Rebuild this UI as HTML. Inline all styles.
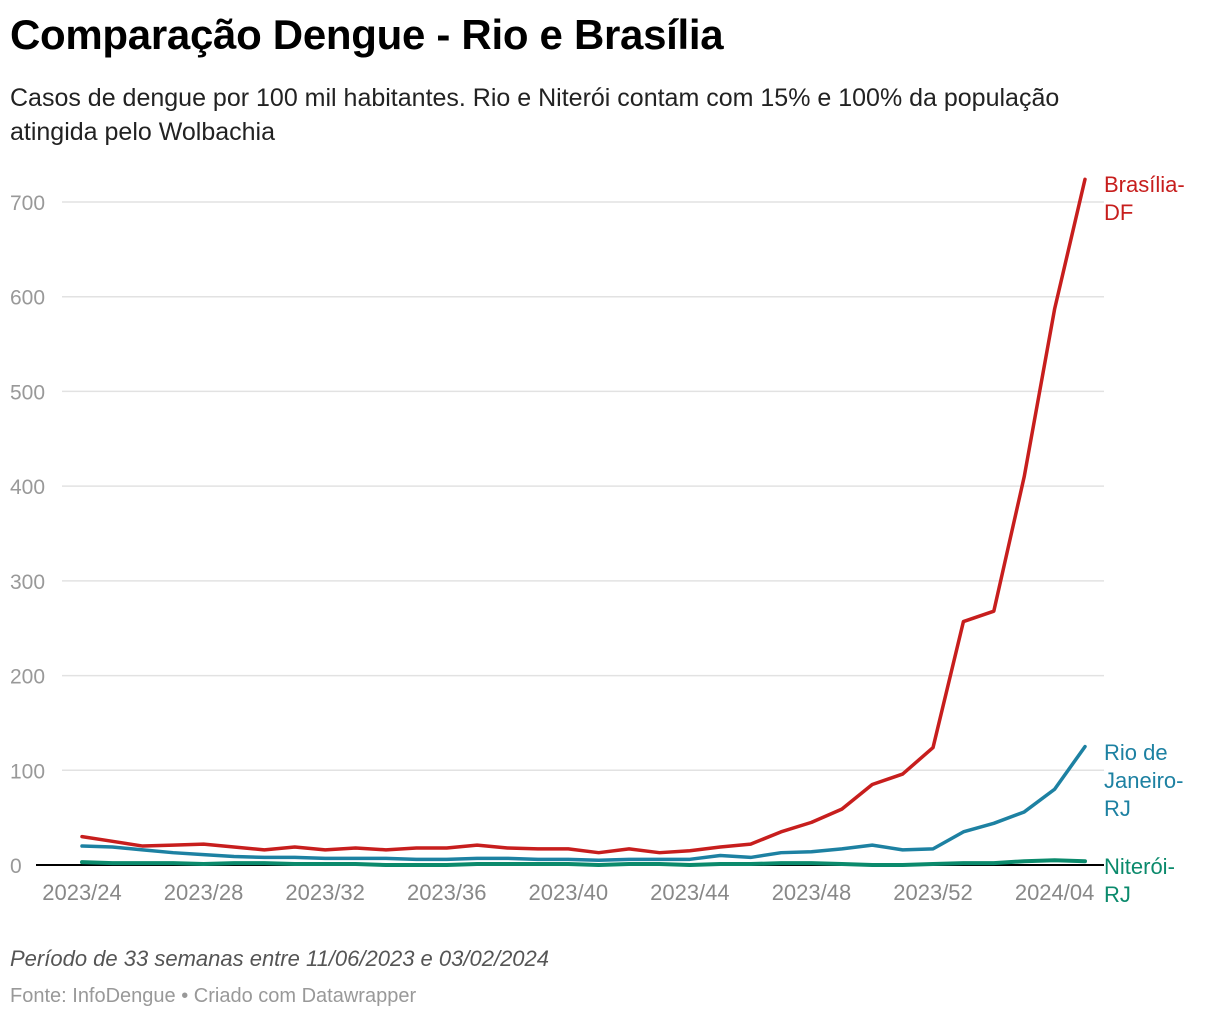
<!DOCTYPE html>
<html><head><meta charset="utf-8"><style>
body{margin:0;background:#fff;width:1220px;height:1020px;overflow:hidden;font-family:"Liberation Sans",sans-serif}
#title{position:absolute;left:10px;top:11px;font-size:42px;font-weight:bold;color:#000;letter-spacing:-0.3px}
#sub{position:absolute;left:10px;top:81px;font-size:25px;line-height:34px;color:#222;width:1130px}
#note{position:absolute;left:10px;top:946px;font-size:22px;font-style:italic;color:#555}
#src{position:absolute;left:10px;top:985px;font-size:20px;color:#999}
svg{position:absolute;left:0;top:0}
</style></head><body>
<div id="title">Comparação Dengue - Rio e Brasília</div>
<div id="sub">Casos de dengue por 100 mil habitantes. Rio e Niterói contam com 15% e 100% da população atingida pelo Wolbachia</div>
<svg id="chart" width="1220" height="1020"></svg>
<div id="note">Período de 33 semanas entre 11/06/2023 e 03/02/2024</div>
<div id="src">Fonte: InfoDengue • Criado com Datawrapper</div>
<script>
const weeks=["2023/24","2023/25","2023/26","2023/27","2023/28","2023/29","2023/30","2023/31","2023/32","2023/33","2023/34","2023/35","2023/36","2023/37","2023/38","2023/39","2023/40","2023/41","2023/42","2023/43","2023/44","2023/45","2023/46","2023/47","2023/48","2023/49","2023/50","2023/51","2023/52","2024/01","2024/02","2024/03","2024/04","2024/05"];
const brasilia=[30,25,20,21,22,19,16,19,16,18,16,18,18,21,18,17,17,13,17,13,15,19,22,35,45,59,85,96,124,257,268,410,587,724];
const rio=[20,19,16,13,11,9,8,8,7,7,7,6,6,7,7,6,6,5,6,6,6,10,8,13,14,17,21,16,17,35,44,56,80,125];
const niteroi=[3,2,2,2,1,2,2,1,1,1,0,0,0,1,1,1,1,0,1,1,0,1,1,2,2,1,0,0,1,2,2,4,5,4];
const yTicks=[0,100,200,300,400,500,600,700];
const xLabelIdx=[0,4,8,12,16,20,24,28,32];
const xLabels=["2023/24","2023/28","2023/32","2023/36","2023/40","2023/44","2023/48","2023/52","2024/04"];
const NS="http://www.w3.org/2000/svg";
const svg=document.getElementById('chart');
const x=i=>82+i*(1085-82)/(weeks.length-1);
const y=v=>865-v*(865-202)/700;
function mk(t,a){const e=document.createElementNS(NS,t);for(const k in a)e.setAttribute(k,a[k]);svg.appendChild(e);return e;}
yTicks.forEach(v=>{
 const l=mk('line',{x1:v?62:36,x2:1104,y1:y(v),y2:y(v),stroke:v?'#e2e2e2':'#000','stroke-width':v?1.5:2});
 
 
 const t=mk('text',{x:10,y:y(v)+8,'font-size':21,fill:'#999'});t.textContent=v;
 
 
});
xLabelIdx.forEach((i,k)=>{const t=mk('text',{x:x(i),y:900,'font-size':22,fill:'#888','text-anchor':'middle'});t.textContent=xLabels[k];
 
 });
function line(d,c,name,w){const p=mk('polyline',{points:d.map((v,i)=>x(i)+','+y(v)).join(' '),fill:'none',stroke:c,'stroke-width':w,'stroke-linejoin':'round','stroke-linecap':'round'});
 
 }
line(niteroi,'#0b8a6c','line-niteroi',4);
line(rio,'#1d81a2','line-rio',3.5);
line(brasilia,'#c71e1d','line-brasilia',3.5);
function lab(lines,c,yy,name){lines.forEach((s,k)=>{const t=mk('text',{x:1104,y:yy+k*28,'font-size':22,fill:c});t.textContent=s;
 
 });}
lab(['Brasília-','DF'],'#c71e1d',192,'label-brasilia');
lab(['Rio de','Janeiro-','RJ'],'#1d81a2',760,'label-rio');
lab(['Niterói-','RJ'],'#0b8a6c',874,'label-niteroi');
</script>
</body></html>
